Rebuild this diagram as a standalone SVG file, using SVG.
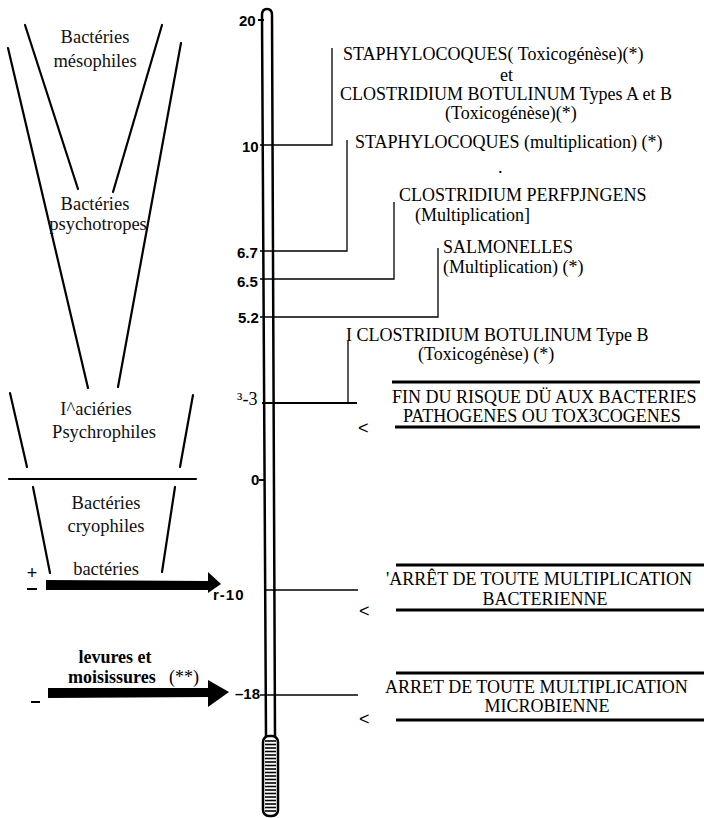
<svg xmlns="http://www.w3.org/2000/svg" width="704" height="818" viewBox="0 0 704 818" xml:space="preserve">
<style>
.s{font-family:"Liberation Serif","Times New Roman",serif;font-size:18px;fill:#000}
.sb{font-family:"Liberation Serif","Times New Roman",serif;font-size:18px;font-weight:bold;fill:#000}
.l{font-family:"Liberation Serif","Times New Roman",serif;font-size:18.5px;fill:#111}
.n{font-family:"Liberation Sans",Arial,sans-serif;font-size:15px;font-weight:bold;fill:#000}
.lt{font-family:"Liberation Sans",Arial,sans-serif;font-size:18px;fill:#000}
.ln{stroke:#000;stroke-width:2.2;fill:none;stroke-linecap:round}
.c{stroke:#000;stroke-width:1.3;fill:none}
.ck{stroke:#000;stroke-width:2;fill:none}
.bar{stroke:#000;stroke-width:2.8;fill:none}
</style>
<rect width="704" height="818" fill="#fff"/>
<g id="zones">
  <line class="ln" x1="25" y1="25" x2="78" y2="189"/>
  <line class="ln" x1="162" y1="25" x2="113" y2="192"/>
  <line class="ln" x1="8" y1="48" x2="88" y2="388"/>
  <line class="ln" x1="181" y1="43" x2="118" y2="387"/>
  <line class="ln" x1="10" y1="393" x2="27" y2="467"/>
  <line class="ln" x1="193" y1="395" x2="180" y2="467"/>
  <line class="ln" x1="9" y1="479" x2="196" y2="479"/>
  <line class="ln" x1="33" y1="487" x2="50" y2="573"/>
  <line class="ln" x1="175" y1="487" x2="162" y2="572"/>
</g>
<g id="mesophiles">
  <text class="l" x="95" y="43" text-anchor="middle">Bactéries</text>
  <text class="l" x="95" y="67" text-anchor="middle">mésophiles</text>
</g>
<g id="psychotropes">
  <text class="l" x="95" y="210" text-anchor="middle">Bactéries</text>
  <text class="l" x="98" y="230" text-anchor="middle">psychotropes</text>
</g>
<g id="psychrophiles">
  <text class="l" x="96" y="415" text-anchor="middle">I^aciéries</text>
  <text class="l" x="104" y="438" text-anchor="middle">Psychrophiles</text>
</g>
<g id="cryophiles">
  <text class="l" x="106" y="509" text-anchor="middle">Bactéries</text>
  <text class="l" x="106" y="532" text-anchor="middle">cryophiles</text>
</g>
<g id="bacteries-arrow">
  <text class="l" x="106" y="575" text-anchor="middle">bactéries</text>
  <text class="lt" x="32" y="579" text-anchor="middle">+</text>
  <line class="ck" x1="27" y1="589" x2="37" y2="589"/>
  <polygon points="46,580 209,581 209,590 46,590" fill="#000"/>
  <polygon points="208,572 221,584 208,593" fill="#000"/>
</g>
<g id="levures-arrow">
  <text class="sb" x="115" y="663" text-anchor="middle">levures et</text>
  <text class="sb" x="68" y="683">moisissures</text>
  <text class="s" x="169" y="683">(**)</text>
  <line class="ck" x1="31" y1="702" x2="40" y2="702"/>
  <polygon points="48,688 210,688 210,697 48,698" fill="#000"/>
  <polygon points="208,680 229,692 208,707" fill="#000"/>
</g>
<g id="thermometer">
  <path d="M266,737 L262,15 Q262,9 267,9 Q272,9 272,15 L275,737" fill="none" stroke="#000" stroke-width="2.5"/>
  <rect x="263" y="736" width="15" height="80" rx="6" fill="#fff" stroke="#000" stroke-width="2.5"/>
  <g stroke="#000" stroke-width="1.6">
    <line x1="265" y1="741" x2="276" y2="741"/><line x1="265" y1="744.5" x2="276" y2="744.5"/>
    <line x1="265" y1="748" x2="276" y2="748"/><line x1="265" y1="751.5" x2="276" y2="751.5"/>
    <line x1="265" y1="755" x2="276" y2="755"/><line x1="265" y1="758.5" x2="276" y2="758.5"/>
    <line x1="265" y1="762" x2="276" y2="762"/><line x1="265" y1="765.5" x2="276" y2="765.5"/>
    <line x1="265" y1="769" x2="276" y2="769"/><line x1="265" y1="772.5" x2="276" y2="772.5"/>
    <line x1="265" y1="776" x2="276" y2="776"/><line x1="265" y1="779.5" x2="276" y2="779.5"/>
    <line x1="265" y1="783" x2="276" y2="783"/><line x1="265" y1="786.5" x2="276" y2="786.5"/>
    <line x1="265" y1="790" x2="276" y2="790"/><line x1="265" y1="793.5" x2="276" y2="793.5"/>
    <line x1="265" y1="797" x2="276" y2="797"/><line x1="265" y1="800.5" x2="276" y2="800.5"/>
    <line x1="265" y1="804" x2="276" y2="804"/><line x1="265" y1="807.5" x2="276" y2="807.5"/>
    <line x1="265" y1="811" x2="276" y2="811"/>
  </g>
  <text class="n" x="239" y="26" font-size="16">20</text>
  <text class="n" x="242" y="152" font-size="16">10</text>
  <text class="n" x="237" y="258">6.7</text>
  <text class="n" x="237" y="287">6.5</text>
  <text class="n" x="238" y="323">5.2</text>
  <text class="s" x="237" y="405" font-size="17">³-3</text>
  <text class="n" x="251" y="485">0</text>
  <text class="n" x="213" y="600" font-size="18" letter-spacing="1">r-10</text>
  <text class="n" x="235" y="699">–18</text>
</g>
<g id="connectors">
  <line class="ck" x1="258" y1="20" x2="264" y2="20"/>
  <polyline class="c" points="260,145 332,145 332,48"/>
  <polyline class="c" points="260,251 347,251 347,140"/>
  <polyline class="c" points="260,279 394,279 394,202"/>
  <polyline class="c" points="260,317 438,317 438,248"/>
  <line class="ck" x1="262" y1="403" x2="357" y2="403"/>
  <line class="c" x1="348" y1="341" x2="348" y2="403"/>
  <line class="ck" x1="259" y1="480" x2="265" y2="480"/>
  <line class="c" x1="264" y1="590" x2="358" y2="590"/>
  <line class="c" x1="260" y1="695" x2="358" y2="695"/>
</g>
<g id="staph-toxi">
  <text class="s" x="343" y="60">STAPHYLOCOQUES( Toxicogénèse)(*)</text>
  <text class="s" x="500" y="81">et</text>
  <text class="s" x="340" y="100">CLOSTRIDIUM BOTULINUM  Types A et B</text>
  <text class="s" x="445" y="119">(Toxicogénèse)(*)</text>
</g>
<g id="staph-multi">
  <text class="s" x="355" y="148">STAPHYLOCOQUES  (multiplication) (*)</text>
  <text class="s" x="498" y="173">.</text>
</g>
<g id="perfringens">
  <text class="s" x="399" y="201">CLOSTRIDIUM  PERFPJNGENS</text>
  <text class="s" x="415" y="221">(Multiplication]</text>
</g>
<g id="salmonelles">
  <text class="s" x="443" y="253">SALMONELLES</text>
  <text class="s" x="443" y="273">(Multiplication)  (*)</text>
</g>
<g id="botulinum-b">
  <text class="s" x="346" y="341">I CLOSTRIDIUM BOTULINUM Type B</text>
  <text class="s" x="418" y="360">(Toxicogénèse)  (*)</text>
</g>
<g id="fin-risque">
  <line class="bar" x1="392" y1="382" x2="700" y2="382"/>
  <text class="s" x="392" y="403">FIN DU RISQUE DÜ AUX BACTERIES</text>
  <text class="s" x="403" y="422">PATHOGENES OU TOX3COGENES</text>
  <line class="bar" x1="395" y1="427" x2="700" y2="427"/>
  <text class="lt" x="358" y="434">&lt;</text>
</g>
<g id="arret-bact">
  <line class="bar" x1="396" y1="565" x2="704" y2="565"/>
  <text class="s" x="386" y="585">'ARRÊT DE TOUTE  MULTIPLICATION</text>
  <text class="s" x="545" y="605" text-anchor="middle" font-size="17.5">BACTERIENNE</text>
  <line class="bar" x1="396" y1="610" x2="704" y2="610"/>
  <text class="lt" x="359" y="617">&lt;</text>
</g>
<g id="arret-micro">
  <line class="bar" x1="396" y1="673" x2="704" y2="673"/>
  <text class="s" x="385" y="693">ARRET DE TOUTE MULTIPLICATION</text>
  <text class="s" x="547" y="712" text-anchor="middle">MICROBIENNE</text>
  <line class="bar" x1="396" y1="720" x2="704" y2="720"/>
  <text class="lt" x="359" y="725">&lt;</text>
</g>
</svg>
